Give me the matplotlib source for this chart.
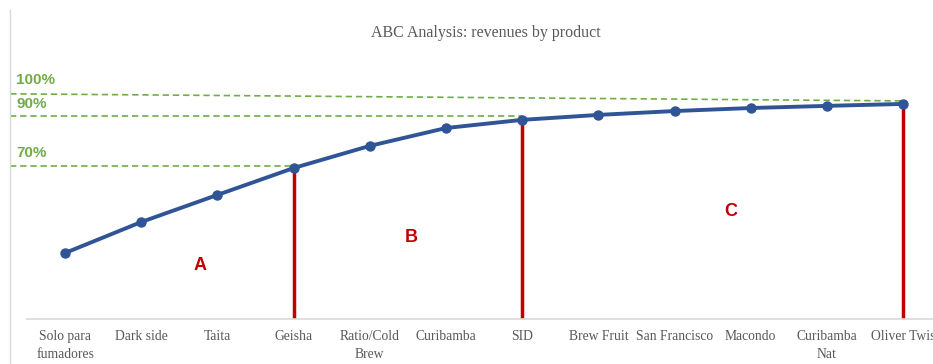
import matplotlib.pyplot as plt
from matplotlib.lines import Line2D

products = ['Solo para\nfumadores', 'Dark side', 'Taita', 'Geisha', 'Ratio/Cold\nBrew',
            'Curibamba', 'SID', 'Brew Fruit', 'San Francisco', 'Macondo',
            'Curibamba\nNat', 'Oliver Twis']
cum_share = [30.7, 45.1, 57.7, 70.2, 80.5, 88.8, 92.6, 94.9, 96.7, 98.1, 99.1, 100.0]
cut_idx = [3, 6, 11]
threshold_labels = ['70%', '90%', '100%']
class_labels = ['A', 'B', 'C']

BLUE = '#2F5597'
RED = '#C00000'
GREEN = '#70AD47'
GRAY = '#595959'

fig = plt.figure(figsize=(9.33, 3.64), dpi=100)
ax = fig.add_axes([0.0289, 0.1236, 0.980, 0.712])

x = list(range(len(products)))
ax.set_xlim(-0.5, len(products) - 0.5)
ax.set_ylim(0, 120.5)

# red separators between classes
ax.vlines(cut_idx, 0, [cum_share[i] for i in cut_idx], color=RED, lw=2.5, zorder=2)

# green dashed threshold guides (hand drawn in the original, sit a bit above the points)
dash = (0, (3.8, 2.3))
x0 = -0.72
ax.plot([x0, cut_idx[0]], [71.2, 71.2], color=GREEN, lw=1.2, ls=dash, clip_on=False, zorder=1)
ax.plot([x0, cut_idx[1]], [94.4, 94.4], color=GREEN, lw=1.2, ls=dash, clip_on=False, zorder=1)
ax.plot([x0, cut_idx[2]], [104.7, 101.4], color=GREEN, lw=1.2, ls=dash, clip_on=False, zorder=1)

for lbl, yv in zip(threshold_labels, [77.0, 100.0, 111.0]):
    ax.text(-0.64, yv, lbl, color=GREEN, fontsize=11, fontweight='bold',
            family='Liberation Sans', ha='left', va='center', clip_on=False)

# cumulative curve
ax.plot(x, cum_share, color=BLUE, lw=2.8, marker='o', ms=6.5, zorder=3)

for lbl, (xv, yv) in zip(class_labels, [(1.77, 24.7), (4.55, 37.7), (8.74, 49.8)]):
    ax.text(xv, yv, lbl, color=RED, fontsize=13, fontweight='bold',
            family='Liberation Sans', ha='center', va='center')

ax.set_xticks(x)
ax.set_xticklabels(products, family='Liberation Serif', fontsize=9.8, color=GRAY,
                   linespacing=1.45)
ax.tick_params(axis='x', length=0, pad=8)
ax.set_yticks([])
for side in ['top', 'right', 'left']:
    ax.spines[side].set_visible(False)
ax.spines['bottom'].set_color('#D9D9D9')
ax.spines['bottom'].set_linewidth(1.2)

fig.text(0.521, 1 - 33 / 364, 'ABC Analysis: revenues by product', family='Liberation Serif',
         fontsize=11.5, color=GRAY, ha='center', va='center')

# chart frame edge on the left
fig.add_artist(Line2D([9.5 / 933, 9.5 / 933], [0, 1 - 10 / 364], color='#D9D9D9', lw=1))

fig.savefig('out.png', dpi=100)
